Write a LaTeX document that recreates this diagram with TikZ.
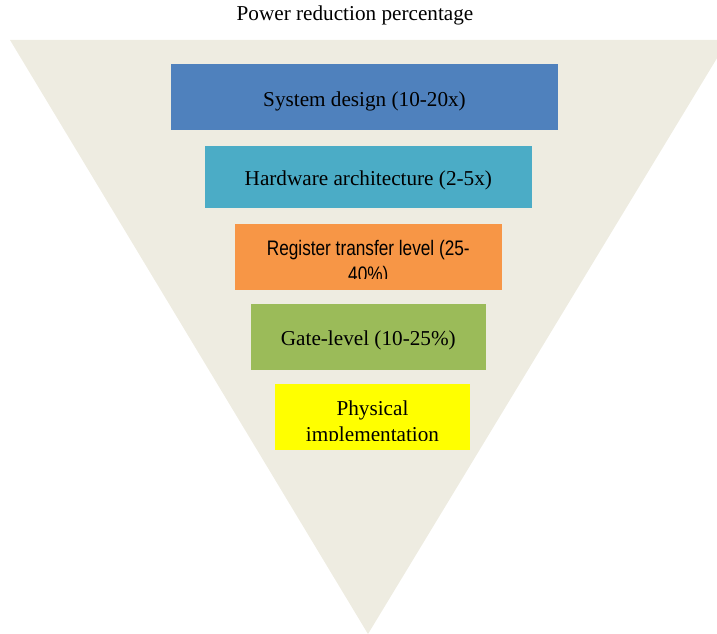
\documentclass[tikz,border=0pt]{standalone}
\usepackage{fontspec}
\setmainfont{Liberation Serif}
\newfontfamily\narrowfont[FakeStretch=0.82]{Liberation Sans}
\usetikzlibrary{calc}
\definecolor{funnelgray}{rgb}{.933,.925,.882}
\definecolor{sysblue}{rgb}{.31,.506,.741}
\definecolor{hwcyan}{rgb}{.294,.675,.776}
\definecolor{rtlorange}{rgb}{.969,.588,.275}
\definecolor{gategreen}{rgb}{.608,.733,.349}
\definecolor{physyellow}{rgb}{1,1,0}

\begin{document}
\begin{tikzpicture}[x=1pt,y=-1pt,
    tierbox/.style={rectangle,inner sep=0pt,draw=none},
    boxlabel/.style={inner sep=0pt,anchor=base,align=center,font=\fontsize{21.2}{25.5}\selectfont}]
    \useasboundingbox (0,0) rectangle (717,634);
    \clip (0,0) rectangle (717,634); % funnel runs off the right edge
    \coordinate (TopLeft)  at (10,40);
    \coordinate (TopRight) at (728,40);
    \coordinate (Apex)     at (368,634);
    \fill[funnelgray] (TopLeft) -- (TopRight) -- (Apex) -- cycle;

    \node[boxlabel] (title) at (355,20.7) {Power reduction percentage};

    % the five tiers, top to bottom
    \node[tierbox,fill=sysblue,minimum width=387pt,minimum height=66pt] (sys) at (364.5,96.7) {};
    \node[tierbox,fill=hwcyan,minimum width=327pt,minimum height=62pt] (hw) at (368.3,177.2) {};
    \node[tierbox,fill=rtlorange,minimum width=267pt,minimum height=66pt] (rtl) at (368.3,257.2) {};
    \node[tierbox,fill=gategreen,minimum width=235pt,minimum height=66pt] (gate) at (368.3,337.2) {};
    \node[tierbox,fill=physyellow,minimum width=195pt,minimum height=66pt] (phys) at (372.5,417.2) {};

    \node[boxlabel] (sysText)  at ($(sys.center)+(0,9.3)$)  {System design (10-20x)};
    \node[boxlabel] (hwText)   at ($(hw.center)+(0,7.8)$)   {Hardware architecture (2-5x)};
    \node[boxlabel] (gateText) at ($(gate.center)+(0,7.8)$) {Gate-level (10-25\%)};

    % these two overflow their box and are cut off (base = last line)
    \begin{scope}
      \clip (rtl.north west) rectangle ($(rtl.south east)+(0,-11.7)$);
      \node[boxlabel,font=\fontsize{21}{26}\selectfont\narrowfont] (rtlText) at ($(rtl.center)+(0,23.8)$) {Register transfer level (25-\\40\%)};
    \end{scope}
    \begin{scope}
      \clip (phys.north west) rectangle ($(phys.south east)+(0,-10)$);
      \node[boxlabel] (physText) at ($(phys.center)+(0,23.8)$) {Physical\\implementation};
    \end{scope}
\end{tikzpicture}
\end{document}
